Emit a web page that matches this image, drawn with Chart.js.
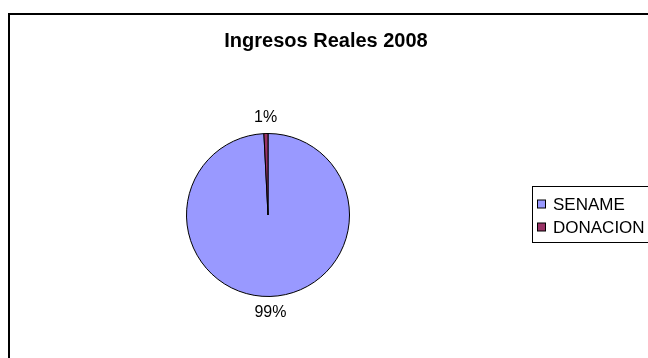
<!DOCTYPE html>
<html>
<head>
<meta charset="utf-8">
<script src="https://cdn.jsdelivr.net/npm/chart.js@4/dist/chart.umd.min.js"></script>
<style>
  html, body { margin: 0; padding: 0; background: #fff; }
  #wrap { width: 648px; height: 358px; position: relative; }
</style>
</head>
<body>
<div id="wrap"><canvas id="ingresosChart"></canvas></div>
<script>
const chartTitle = "Ingresos Reales 2008";
const categories = ["SENAME", "DONACION"];
const ingresos = [99.2, 0.8];
const sliceColors = ["#9999FF", "#993366"];

const FONT = "'Liberation Sans', Arial, sans-serif";

// outer frame, title, legend box and % labels, drawn like the spreadsheet chart
const framePlugin = {
  id: "frame",
  beforeDraw(chart) {
    const c = chart.ctx;
    c.save();
    c.fillStyle = "#fff";
    c.fillRect(0, 0, chart.width, chart.height);
    c.strokeStyle = "#000";
    c.lineWidth = 2;
    c.strokeRect(9, 14, 700, 400);
    c.fillStyle = "#000";
    c.font = "bold 20px " + FONT;
    c.textAlign = "center";
    c.textBaseline = "middle";
    c.fillText(chartTitle, 326, 41);
    c.restore();
  },
  afterDraw(chart) {
    const c = chart.ctx;
    c.save();
    // legend
    c.strokeStyle = "#000";
    c.lineWidth = 1;
    c.strokeRect(532.5, 186.5, 200, 56);
    c.font = "17px " + FONT;
    c.textBaseline = "middle";
    c.textAlign = "left";
    const bg = chart.data.datasets[0].backgroundColor;
    chart.data.labels.forEach((lab, i) => {
      const y = 204 + i * 23;
      c.fillStyle = bg[i];
      c.fillRect(537.5, y - 4, 8, 8);
      c.strokeRect(537.5, y - 4, 8, 8);
      c.fillStyle = "#000";
      c.fillText(lab, 553, y + 1);
    });
    // percentage labels outside each slice
    const meta = chart.getDatasetMeta(0);
    const data = chart.data.datasets[0].data;
    const total = data.reduce((a, b) => a + b, 0);
    c.font = "16px " + FONT;
    c.textAlign = "center";
    meta.data.forEach((arc, i) => {
      const p = arc.getProps(["x", "y", "startAngle", "endAngle", "outerRadius"], true);
      const mid = (p.startAngle + p.endAngle) / 2;
      const r = p.outerRadius + 16;
      c.fillText(Math.round(data[i] / total * 100) + "%", p.x + Math.cos(mid) * r, p.y + Math.sin(mid) * r);
    });
    c.restore();
  }
};

new Chart(document.getElementById("ingresosChart"), {
  type: "pie",
  data: {
    labels: categories,
    datasets: [{
      data: ingresos,
      backgroundColor: sliceColors,
      borderColor: "#000",
      borderWidth: 1,
    }],
  },
  options: {
    responsive: true,
    maintainAspectRatio: false,
    animation: false,
    layout: { padding: { left: 186, right: 298, top: 133, bottom: 61 } },
    plugins: {
      legend: { display: false },
      tooltip: { enabled: false },
      title: { display: false },
    },
  },
  plugins: [framePlugin],
});
</script>
</body>
</html>
